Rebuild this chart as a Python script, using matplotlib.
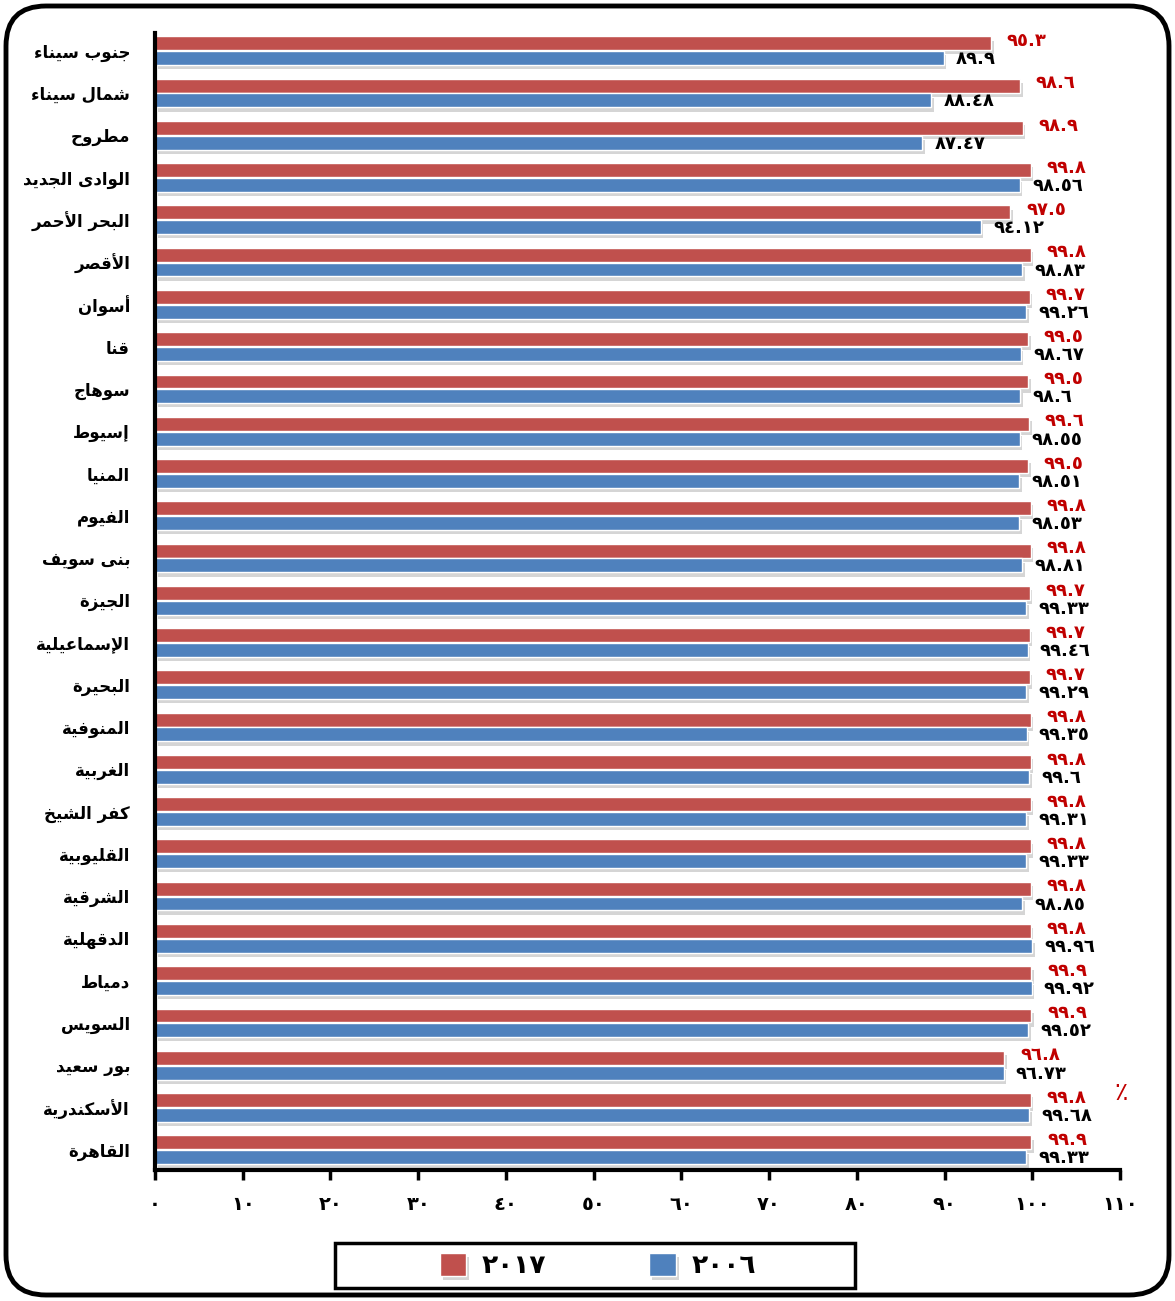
import matplotlib
matplotlib.use("Agg")
import matplotlib.pyplot as plt
import matplotlib.patheffects as pe
from matplotlib.patches import Rectangle, FancyBboxPatch
from matplotlib.transforms import IdentityTransform
import numpy as np

# governorates, top to bottom
governorates = ["جنوب سيناء", "شمال سيناء", "مطروح", "الوادى الجديد", "البحر الأحمر",
                "الأقصر", "أسوان", "قنا", "سوهاج", "إسيوط", "المنيا", "الفيوم",
                "بنى سويف", "الجيزة", "الإسماعيلية", "البحيرة", "المنوفية", "الغربية",
                "كفر الشيخ", "القليوبية", "الشرقية", "الدقهلية", "دمياط", "السويس",
                "بور سعيد", "الأسكندرية", "القاهرة"]
val_2017 = [95.3, 98.6, 98.9, 99.8, 97.5, 99.8, 99.7, 99.5, 99.5, 99.6, 99.5, 99.8,
            99.8, 99.7, 99.7, 99.7, 99.8, 99.8, 99.8, 99.8, 99.8, 99.8, 99.9, 99.9,
            96.8, 99.8, 99.9]
val_2006 = [89.9, 88.48, 87.47, 98.56, 94.12, 98.83, 99.26, 98.67, 98.6, 98.55, 98.51, 98.53,
            98.81, 99.33, 99.46, 99.29, 99.35, 99.6, 99.31, 99.33, 98.85, 99.96, 99.92, 99.52,
            96.73, 99.68, 99.33]
lbl_2017 = ["95.3", "98.6", "98.9", "99.8", "97.5", "99.8", "99.7", "99.5", "99.5", "99.6",
            "99.5", "99.8", "99.8", "99.7", "99.7", "99.7", "99.8", "99.8", "99.8", "99.8",
            "99.8", "99.8", "99.9", "99.9", "96.8", "99.8", "99.9"]
lbl_2006 = ["89.9", "88.48", "87.47", "98.56", "94.12", "98.83", "99.26", "98.67", "98.6",
            "98.55", "98.51", "98.53", "98.81", "99.33", "99.46", "99.29", "99.35", "99.6",
            "99.31", "99.33", "98.85", "99.96", "99.92", "99.52", "96.73", "99.68", "99.33"]
xticks = list(range(0, 111, 10))
series_names = ["2017", "2006"]

# ---------------------------------------------------------------------------
# minimal arabic shaping (matplotlib has no complex text layout)
_F = {  # isolated, final, initial, medial
    "ا": (0xFE8D, 0xFE8E, None, None), "أ": (0xFE83, 0xFE84, None, None),
    "إ": (0xFE87, 0xFE88, None, None), "آ": (0xFE81, 0xFE82, None, None),
    "ب": (0xFE8F, 0xFE90, 0xFE91, 0xFE92), "ة": (0xFE93, 0xFE94, None, None),
    "ت": (0xFE95, 0xFE96, 0xFE97, 0xFE98), "ث": (0xFE99, 0xFE9A, 0xFE9B, 0xFE9C),
    "ج": (0xFE9D, 0xFE9E, 0xFE9F, 0xFEA0), "ح": (0xFEA1, 0xFEA2, 0xFEA3, 0xFEA4),
    "خ": (0xFEA5, 0xFEA6, 0xFEA7, 0xFEA8), "د": (0xFEA9, 0xFEAA, None, None),
    "ذ": (0xFEAB, 0xFEAC, None, None), "ر": (0xFEAD, 0xFEAE, None, None),
    "ز": (0xFEAF, 0xFEB0, None, None), "س": (0xFEB1, 0xFEB2, 0xFEB3, 0xFEB4),
    "ش": (0xFEB5, 0xFEB6, 0xFEB7, 0xFEB8), "ص": (0xFEB9, 0xFEBA, 0xFEBB, 0xFEBC),
    "ض": (0xFEBD, 0xFEBE, 0xFEBF, 0xFEC0), "ط": (0xFEC1, 0xFEC2, 0xFEC3, 0xFEC4),
    "ظ": (0xFEC5, 0xFEC6, 0xFEC7, 0xFEC8), "ع": (0xFEC9, 0xFECA, 0xFECB, 0xFECC),
    "غ": (0xFECD, 0xFECE, 0xFECF, 0xFED0), "ف": (0xFED1, 0xFED2, 0xFED3, 0xFED4),
    "ق": (0xFED5, 0xFED6, 0xFED7, 0xFED8), "ك": (0xFED9, 0xFEDA, 0xFEDB, 0xFEDC),
    "ل": (0xFEDD, 0xFEDE, 0xFEDF, 0xFEE0), "م": (0xFEE1, 0xFEE2, 0xFEE3, 0xFEE4),
    "ن": (0xFEE5, 0xFEE6, 0xFEE7, 0xFEE8), "ه": (0xFEE9, 0xFEEA, 0xFEEB, 0xFEEC),
    "و": (0xFEED, 0xFEEE, None, None), "ى": (0xFEEF, 0xFEF0, None, None),
    "ي": (0xFEF1, 0xFEF2, 0xFEF3, 0xFEF4), "ء": (0xFE80, None, None, None),
    # lam-alef ligatures (placeholder keys)
    "\uE001": (0xFEF5, 0xFEF6, None, None), "\uE002": (0xFEF7, 0xFEF8, None, None),
    "\uE003": (0xFEF9, 0xFEFA, None, None), "\uE004": (0xFEFB, 0xFEFC, None, None),
}
_LAMALEF = {"لآ": "\uE001", "لأ": "\uE002", "لإ": "\uE003", "لا": "\uE004"}


def shape(s):
    for k, v in _LAMALEF.items():
        s = s.replace(k, v)
    out = []
    for i, c in enumerate(s):
        if c not in _F:
            out.append(c)
            continue
        f = _F[c]
        prev = s[i - 1] if i > 0 else None
        nxt = s[i + 1] if i + 1 < len(s) else None
        j_prev = prev in _F and _F[prev][2] is not None and f[1] is not None
        j_next = f[2] is not None and nxt in _F and _F[nxt][1] is not None
        if j_prev and j_next:
            cp = f[3]
        elif j_prev:
            cp = f[1]
        elif j_next:
            cp = f[2]
        else:
            cp = f[0]
        out.append(chr(cp))
    return "".join(out[::-1])


_DIG = str.maketrans("0123456789", "٠١٢٣٤٥٦٧٨٩")


def ar_num(s):
    return s.translate(_DIG)

# ---------------------------------------------------------------------------

plt.rcParams["font.family"] = ["DejaVu Sans"]
RED, BLUE = "#C0504D", "#4F81BD"

fig = plt.figure(figsize=(11.75, 13.01), dpi=100)
ax = fig.add_axes([155 / 1175, 1 - 1170 / 1301, (1120 - 155) / 1175, (1170 - 33) / 1301])

y = np.arange(len(governorates))
h = 0.33
shadow = [pe.SimplePatchShadow(offset=(2, -3), shadow_rgbFace="#888888", alpha=0.35), pe.Normal()]
b1 = ax.barh(y - h / 2 - 0.01, val_2017, height=h, color=RED, edgecolor="white", linewidth=1,
             label=ar_num(series_names[0]))
b2 = ax.barh(y + h / 2 + 0.01, val_2006, height=h, color=BLUE, edgecolor="white", linewidth=1,
             label=ar_num(series_names[1]))
for bar in list(b1) + list(b2):
    bar.set_path_effects(shadow)

for i in range(len(governorates)):
    ax.text(val_2017[i] + 1.8, y[i] - 0.23, ar_num(lbl_2017[i]), color="#C00000",
            fontsize=13, fontweight="bold", ha="left", va="center")
    ax.text(val_2006[i] + 1.4, y[i] + 0.2, ar_num(lbl_2006[i]), color="black",
            fontsize=13, fontweight="bold", ha="left", va="center")

ax.set_xlim(0, 110)
ax.set_ylim(26.48, -0.42)
ax.set_xticks(xticks)
ax.set_xticklabels([ar_num(str(t)) for t in xticks], fontsize=14, fontweight="bold")
ax.set_yticks(y)
ax.set_yticklabels([shape(g) for g in governorates], fontsize=12, fontweight="bold")
ax.tick_params(axis="y", length=0, pad=18)
ax.tick_params(axis="x", length=7, width=2.5, direction="out", pad=11)
for side in ["top", "right"]:
    ax.spines[side].set_visible(False)
for side in ["left", "bottom"]:
    ax.spines[side].set_linewidth(3)

# percent sign near the labels
fig.text(1121 / 1175, 1 - 1093 / 1301, "٪", color="#C00000", fontsize=18,
         ha="center", va="center")

# legend with a plain black frame
leg = fig.legend(handles=[b1, b2], loc="center", bbox_to_anchor=(598 / 1175, 1 - 1266 / 1301),
                 ncol=2, frameon=False, handlelength=1.0, handleheight=1.0,
                 handletextpad=0.6, columnspacing=3.9, prop={"weight": "bold", "size": 19})
fig.add_artist(Rectangle((335 / 1175, 1 - 1288 / 1301), 520 / 1175, 45 / 1301,
                         transform=fig.transFigure, fill=False, edgecolor="black", linewidth=2.5))

# rounded outer frame
fig.add_artist(FancyBboxPatch((6, 6), 1163, 1289, boxstyle="round,pad=0,rounding_size=40",
                              transform=IdentityTransform(), fill=False, edgecolor="black",
                              linewidth=3.5))

fig.savefig("out.png", dpi=100)
